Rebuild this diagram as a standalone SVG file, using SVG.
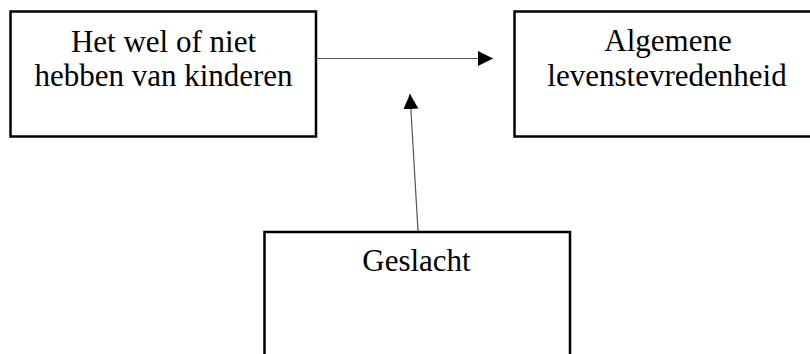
<svg xmlns="http://www.w3.org/2000/svg" width="810" height="354" viewBox="0 0 810 354">
<defs>
<style>
.box{fill:#fff;stroke:#000;stroke-width:2.5}
.lbl{font-family:"Liberation Serif","Times New Roman",serif;font-size:31px;fill:#000;text-anchor:middle}
.conn{stroke:#555;stroke-width:1.2;fill:none}
</style>
<marker id="ah" markerWidth="16" markerHeight="16" refX="15" refY="7.5" orient="auto" markerUnits="userSpaceOnUse">
<path d="M0,0 L15,7.5 L0,15 Z" fill="#000"/>
</marker>
</defs>
<rect width="810" height="354" fill="#fff"/>
<g id="node-kinderen">
<rect class="box" x="10.5" y="11.5" width="305.5" height="125"/>
<text class="lbl" x="163.5" y="52">Het wel of niet</text>
<text class="lbl" x="163.5" y="86">hebben van kinderen</text>
</g>
<g id="node-levenstevredenheid">
<rect class="box" x="514.5" y="11.5" width="310" height="125"/>
<text class="lbl" x="668" y="51">Algemene</text>
<text class="lbl" x="667" y="86">levenstevredenheid</text>
</g>
<g id="node-geslacht">
<rect class="box" x="264.5" y="232" width="305.5" height="140"/>
<text class="lbl" x="416.5" y="271">Geslacht</text>
</g>
<g id="connectors">
<line class="conn" x1="316" y1="58.5" x2="493" y2="58.5" marker-end="url(#ah)"/>
<line class="conn" x1="418" y1="231" x2="410" y2="94" marker-end="url(#ah)"/>
</g>
</svg>
